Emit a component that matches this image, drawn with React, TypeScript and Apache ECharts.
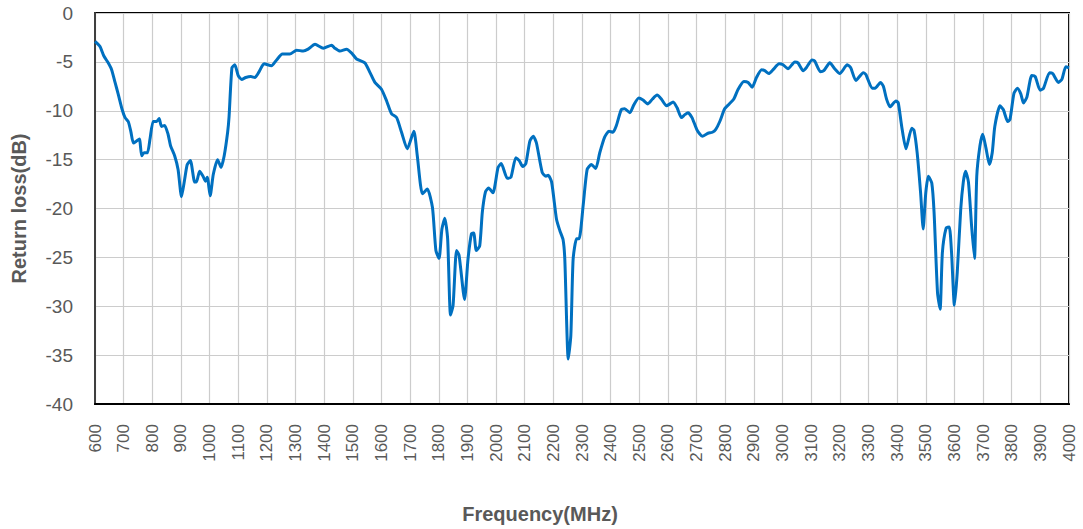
import React, { useEffect, useRef } from "react";
import * as echarts from "echarts";

const freqs: number[] = [
  600, 617, 631, 646, 658, 670, 681, 695, 705, 716, 725, 734, 745, 755, 763, 771, 783, 792, 803, 815,
  824, 832, 843, 855, 864, 878, 890, 902, 913, 922, 933, 948, 954, 965, 977, 986, 992, 1002, 1013, 1028,
  1040, 1051, 1063, 1068, 1078, 1088, 1100, 1112, 1126, 1144, 1158, 1173, 1190, 1216, 1234, 1254, 1280, 1304, 1327, 1344,
  1368, 1397, 1426, 1437, 1455, 1478, 1496, 1513, 1542, 1560, 1577, 1600, 1618, 1635, 1653, 1670, 1690, 1713, 1725, 1743,
  1760, 1778, 1790, 1801, 1811, 1821, 1831, 1841, 1850, 1862, 1871, 1890, 1902, 1914, 1922, 1931, 1943, 1952, 1963, 1974,
  1989, 2007, 2018, 2039, 2052, 2069, 2081, 2093, 2104, 2118, 2130, 2141, 2161, 2174, 2182, 2194, 2211, 2223, 2234, 2240,
  2252, 2261, 2269, 2281, 2290, 2304, 2318, 2333, 2348, 2362, 2379, 2394, 2408, 2420, 2437, 2449, 2467, 2481, 2498, 2513,
  2530, 2546, 2562, 2577, 2595, 2607, 2618, 2632, 2647, 2659, 2670, 2684, 2702, 2720, 2740, 2755, 2767, 2781, 2798, 2814,
  2830, 2845, 2865, 2880, 2894, 2909, 2927, 2938, 2952, 2967, 2988, 3002, 3019, 3043, 3054, 3072, 3083, 3103, 3112, 3132,
  3144, 3165, 3182, 3200, 3226, 3238, 3256, 3282, 3291, 3313, 3323, 3342, 3352, 3363, 3375, 3396, 3404, 3416, 3431, 3451,
  3459, 3470, 3482, 3491, 3500, 3509, 3521, 3529, 3541, 3550, 3558, 3571, 3582, 3590, 3600, 3610, 3622, 3631, 3639, 3649,
  3660, 3670, 3678, 3689, 3699, 3710, 3722, 3732, 3741, 3759, 3771, 3786, 3794, 3808, 3820, 3832, 3841, 3853, 3870, 3882,
  3899, 3911, 3932, 3943, 3963, 3975, 3989, 4000,
];

const returnLoss: number[] = [
  -2.9, -3.4, -4.4, -5.1, -5.8, -7.1, -8.3, -9.9, -10.7, -11.1, -12.1, -13.3, -13.1, -12.9, -14.6, -14.3, -14.3, -12.9, -11.1, -11.1,
  -10.8, -11.6, -11.5, -12.4, -13.6, -14.6, -16.0, -18.8, -17.0, -15.5, -15.1, -17.3, -17.3, -16.2, -16.7, -17.2, -16.8, -18.7, -16.5, -15.0,
  -15.8, -14.6, -12.2, -10.6, -5.6, -5.3, -6.4, -6.8, -6.6, -6.5, -6.6, -6.0, -5.2, -5.4, -4.8, -4.2, -4.2, -3.8, -3.9, -3.7,
  -3.2, -3.6, -3.3, -3.6, -3.9, -3.7, -4.1, -4.7, -5.1, -6.1, -7.1, -7.8, -9.0, -10.3, -10.7, -12.2, -13.9, -12.1, -14.6, -18.5,
  -18.0, -19.9, -24.3, -25.1, -22.1, -21.0, -23.1, -30.9, -29.9, -24.3, -24.8, -29.3, -25.2, -22.6, -22.5, -24.3, -23.8, -20.4, -18.3, -17.9,
  -18.4, -15.8, -15.4, -16.9, -16.8, -14.8, -15.1, -15.7, -15.4, -13.1, -12.6, -13.3, -16.3, -16.7, -16.6, -17.3, -21.1, -22.3, -23.2, -25.2,
  -35.4, -33.0, -25.2, -23.1, -23.1, -19.7, -16.0, -15.5, -15.9, -14.3, -12.7, -12.1, -12.2, -11.5, -9.9, -9.8, -10.2, -9.4, -8.7, -8.9,
  -9.3, -8.8, -8.4, -8.8, -9.5, -9.3, -9.1, -9.7, -10.7, -10.4, -10.2, -10.7, -12.0, -12.6, -12.3, -12.2, -11.9, -11.1, -9.8, -9.3,
  -8.8, -7.8, -7.0, -7.1, -7.6, -6.6, -5.8, -5.9, -6.2, -5.8, -5.2, -5.3, -5.7, -5.0, -5.1, -5.9, -5.6, -4.8, -4.9, -6.0,
  -5.9, -5.1, -5.7, -6.2, -5.3, -5.6, -6.9, -6.1, -6.3, -7.7, -7.7, -7.1, -7.5, -8.8, -9.6, -9.0, -9.2, -11.6, -13.9, -11.8,
  -12.0, -14.3, -18.4, -22.1, -18.4, -16.7, -17.4, -20.4, -28.6, -30.3, -24.5, -22.0, -21.9, -24.5, -29.9, -26.5, -20.1, -17.3, -16.2, -17.3,
  -21.8, -25.1, -16.7, -13.6, -12.4, -13.8, -15.5, -14.3, -11.6, -9.5, -9.9, -11.1, -10.9, -8.2, -7.7, -8.3, -9.2, -8.6, -6.4, -6.5,
  -7.9, -7.7, -6.1, -6.2, -7.1, -6.8, -5.5, -5.6,
];

const xTitle = "Frequency(MHz)";
const yTitle = "Return loss(dB)";

export default function App() {
  const ref = useRef<HTMLDivElement>(null);
  useEffect(() => {
    document.body.style.margin = "0";
    if (!ref.current) return;
    const chart = echarts.init(ref.current, undefined, { renderer: "svg" });
    const data = freqs.map((f, i) => [f, returnLoss[i]]);
    chart.setOption({
      animation: false,
      backgroundColor: "#fff",
      grid: {
        left: 95,
        right: 14,
        top: 13,
        bottom: 124,
        show: true,
        borderColor: "#000",
        borderWidth: 2,
        backgroundColor: "transparent",
      },
      xAxis: {
        type: "value",
        min: 600,
        max: 4000,
        interval: 100,
        name: xTitle,
        nameLocation: "middle",
        nameGap: 100,
        nameTextStyle: {
          fontFamily: "Liberation Sans",
          fontSize: 20,
          fontWeight: "bold",
          color: "#595959",
          padding: [0, 84, 0, 0],
        },
        axisLine: { show: true, onZero: false, lineStyle: { color: "#000", width: 2 } },
        axisTick: { show: false },
        axisLabel: {
          rotate: 90,
          margin: 20,
          fontFamily: "Liberation Sans",
          fontSize: 17,
          color: "#595959",
          formatter: (v: number) => String(v),
        },
        splitLine: { show: true, lineStyle: { color: "#CCCCCC", width: 1.2 } },
      },
      yAxis: {
        type: "value",
        min: -40,
        max: 0,
        interval: 5,
        name: yTitle,
        nameLocation: "middle",
        nameGap: 66,
        nameTextStyle: { fontFamily: "Liberation Sans", fontSize: 20, fontWeight: "bold", color: "#595959" },
        axisLine: { show: true, lineStyle: { color: "#404040", width: 2 } },
        axisTick: { show: false },
        axisLabel: {
          margin: 22,
          fontFamily: "Liberation Sans",
          fontSize: 19,
          color: "#595959",
          formatter: (v: number) => String(v),
        },
        splitLine: { show: true, lineStyle: { color: "#CCCCCC", width: 1.2 } },
      },
      series: [
        {
          type: "line",
          data,
          showSymbol: false,
          smooth: 0.2,
          lineStyle: { color: "#0070C0", width: 3 },
        },
      ],
    });
    return () => chart.dispose();
  }, []);
  return <div ref={ref} style={{ width: 1083, height: 529 }} />;
}
